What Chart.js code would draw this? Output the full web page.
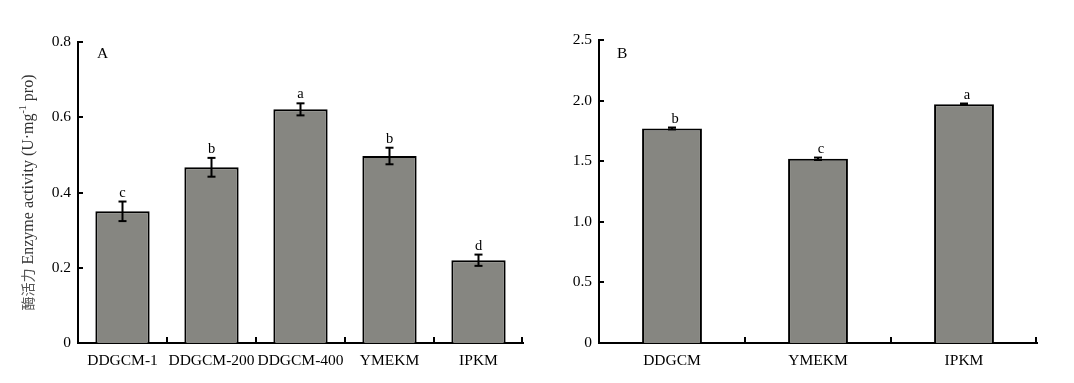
<!DOCTYPE html>
<html>
<head>
<meta charset="utf-8">
<script src="https://cdn.jsdelivr.net/npm/chart.js@4"></script>
<style>
html,body{margin:0;padding:0;background:#fff;}
#wrap{position:relative;width:1074px;height:383px;overflow:hidden;background:#fff;}
canvas{position:absolute;top:0;}
#cA{left:0;}
#cB{left:540px;}
</style>
</head>
<body>
<div id="wrap">
<canvas id="cA" width="540" height="383"></canvas>
<canvas id="cB" width="534" height="383"></canvas>
</div>
<script>
// ---- data ----
const categoriesA = ['DDGCM-1', 'DDGCM-200', 'DDGCM-400', 'YMEKM', 'IPKM'];
const valuesA = [0.350, 0.467, 0.621, 0.497, 0.220];
const errorsA = [0.026, 0.025, 0.016, 0.022, 0.015];
const lettersA = ['c', 'b', 'a', 'b', 'd'];
const tickLabelsA = ['0', '0.2', '0.4', '0.6', '0.8'];

const categoriesB = ['DDGCM', 'YMEKM', 'IPKM'];
const valuesB = [1.77, 1.52, 1.97];
const errorsB = [0.008, 0.010, 0.006];
const lettersB = ['b', 'c', 'a'];
const tickLabelsB = ['0', '0.5', '1.0', '1.5', '2.0', '2.5'];

const SERIF = '"Liberation Serif", "Times New Roman", serif';
const BAR_FILL = '#868681';

const annotPlugin = {
  id: 'annot',
  afterDatasetsDraw(chart, args, o) {
    const ctx = chart.ctx;
    const xs = chart.scales.x, ys = chart.scales.y;
    const ca = chart.chartArea;
    const meta = chart.getDatasetMeta(0);
    ctx.save();
    ctx.strokeStyle = '#000';
    ctx.lineWidth = 2;
    ctx.lineCap = 'butt';
    const line = (x1, y1, x2, y2) => { ctx.beginPath(); ctx.moveTo(x1, y1); ctx.lineTo(x2, y2); ctx.stroke(); };
    o.values.forEach((v, i) => {
      const px = meta.data[i].x;
      const top = ys.getPixelForValue(v + o.errors[i]);
      const bot = ys.getPixelForValue(v - o.errors[i]);
      line(px, top, px, bot);
      line(px - 4, top, px + 4, top);
      line(px - 4, bot, px + 4, bot);
      ctx.fillStyle = '#000';
      ctx.font = '14.5px ' + SERIF;
      ctx.textAlign = 'center';
      ctx.textBaseline = 'alphabetic';
      ctx.fillText(o.letters[i], px + (o.dx || 0), top - 5);
    });
    // inward y ticks
    ys.ticks.forEach(t => {
      const py = Math.round(ys.getPixelForValue(t.value));
      line(ca.left, py, ca.left + 5, py);
    });
    // inward x ticks at category boundaries
    const n = o.values.length;
    for (let i = 0; i < n; i++) {
      const bx = i < n - 1 ? (xs.getPixelForValue(i) + xs.getPixelForValue(i + 1)) / 2 : ca.right - 1;
      line(Math.round(bx), ca.bottom, Math.round(bx), ca.bottom - 6);
    }
    // panel label
    ctx.fillStyle = '#000';
    ctx.font = '15.5px ' + SERIF;
    ctx.textAlign = 'left';
    ctx.textBaseline = 'alphabetic';
    ctx.fillText(o.panel, ca.left + o.panelDx, 58);
    // y title (only panel A)
    if (o.yTitle) {
      const segs = [
        {t: '酶活力', f: '14px "Noto Sans CJK SC", sans-serif', c: '#555', dy: 0},
        {t: ' Enzyme activity (U·mg', f: '16px ' + SERIF, c: '#333', dy: 0},
        {t: '-1', f: '10px ' + SERIF, c: '#333', dy: -7},
        {t: ' pro)', f: '16px ' + SERIF, c: '#333', dy: 0}
      ];
      let total = 0;
      segs.forEach(s => { ctx.font = s.f; s.w = ctx.measureText(s.t).width; total += s.w; });
      const cy = (ca.top + ca.bottom) / 2;
      ctx.translate(33, cy);
      ctx.rotate(-Math.PI / 2);
      let x = -total / 2;
      segs.forEach(s => {
        ctx.font = s.f; ctx.fillStyle = s.c;
        ctx.fillText(s.t, x, s.dy);
        x += s.w;
      });
    }
    ctx.restore();
  }
};

function makeChart(id, cats, vals, errs, letters, tickLabels, yMax, yStep, barPct, yWidth, padRight, padTop, panel, panelDx, yTitle, dx) {
  return new Chart(document.getElementById(id), {
    type: 'bar',
    data: {
      labels: cats,
      datasets: [{
        data: vals,
        backgroundColor: BAR_FILL,
        borderColor: '#000',
        borderWidth: 2,
        borderSkipped: 'start',
        barPercentage: barPct,
        categoryPercentage: 1.0
      }]
    },
    options: {
      responsive: false,
      animation: false,
      devicePixelRatio: 1,
      layout: {padding: {left: 0, right: padRight, top: padTop, bottom: 0}},
      plugins: {
        legend: {display: false},
        tooltip: {enabled: false},
        annot: {values: vals, errors: errs, letters: letters, panel: panel, panelDx: panelDx, yTitle: yTitle, dx: dx}
      },
      scales: {
        x: {
          grid: {display: false, drawTicks: false},
          border: {display: true, color: '#000', width: 2},
          ticks: {color: '#000', font: {family: SERIF, size: 15.5}, padding: 9, maxRotation: 0, autoSkip: false},
          afterFit: s => { s.height = 40; }
        },
        y: {
          min: 0, max: yMax,
          grid: {display: false, drawTicks: false},
          border: {display: true, color: '#000', width: 2},
          ticks: {
            stepSize: yStep,
            color: '#000',
            font: {family: SERIF, size: 15.5},
            padding: 7,
            callback: (v, i) => tickLabels[i]
          },
          afterFit: s => { s.width = yWidth; }
        }
      }
    },
    plugins: [annotPlugin]
  });
}

makeChart('cA', categoriesA, valuesA, errorsA, lettersA, tickLabelsA, 0.8, 0.2, 0.61, 78, 17, 42, 'A', 19, true, 0);
makeChart('cB', categoriesB, valuesB, errorsB, lettersB, tickLabelsB, 2.5, 0.5, 0.41, 59, 37, 40, 'B', 18, false, 3);
</script>
</body>
</html>
